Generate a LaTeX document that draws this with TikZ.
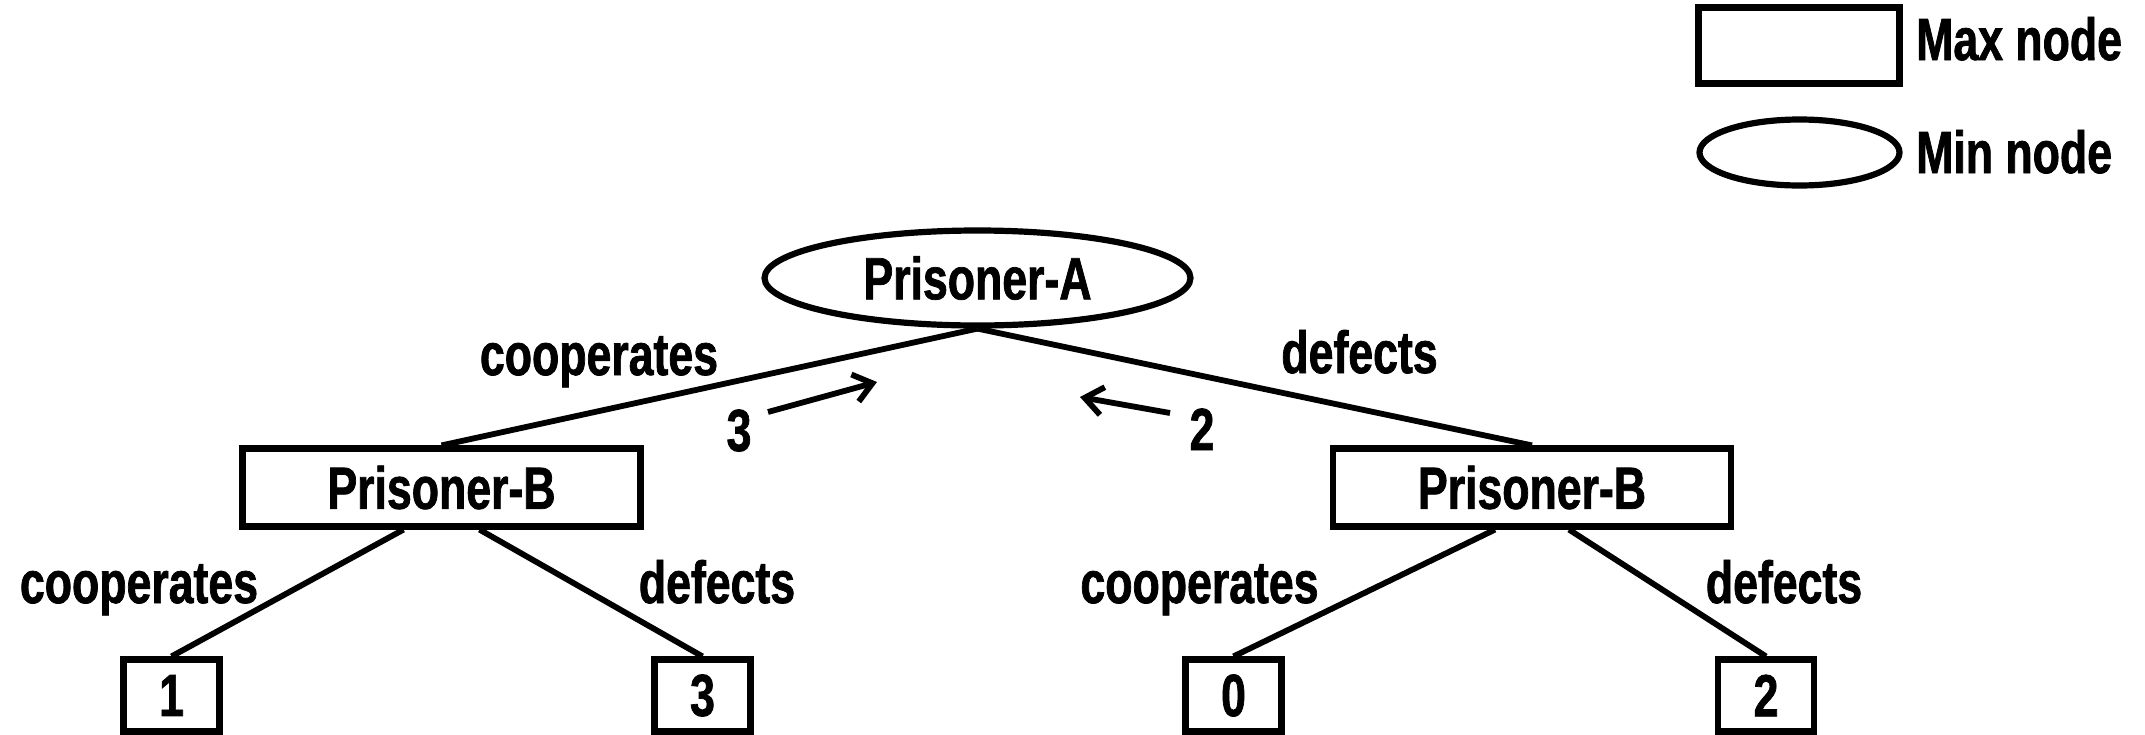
\documentclass[tikz,border=0pt]{standalone}
\usepackage{fontspec}
\setmainfont{Liberation Sans}[FakeStretch=0.75, BoldFeatures={FakeBold=1.2}]
\usetikzlibrary{shapes.geometric,arrows.meta}
\begin{document}
\begin{tikzpicture}[x=1pt,y=-1pt,
  every node/.style={font=\fontsize{59.5pt}{66pt}\selectfont\bfseries, inner sep=0pt},
  edge/.style={line width=5.8pt},
  maxbox/.style={draw, rectangle, line width=6.2pt},
  minoval/.style={draw, ellipse, line width=6.2pt},
  lbl/.style={anchor=base},
  backup/.style={line width=5.8pt, -{Straight Barb[length=18pt,width=28pt]}}]
\useasboundingbox (0,0) rectangle (2145,734);
\clip (0,0) rectangle (2145,734);
\fill[white] (0,0) rectangle (2145,734);

% legend
\node[maxbox, minimum width=201pt, minimum height=76pt] (keymax) at (1799,45.5) {};
\node[anchor=base west] (keymaxt) at (1916,60) {Max node};
\node[minoval, minimum width=200pt, minimum height=66pt] (keymin) at (1799.5,152.5) {};
\node[anchor=base west] (keymint) at (1916,173) {Min node};

% game tree
\node[minoval, minimum width=426pt, minimum height=95pt] (pa) at (977.5,278) {Prisoner-A};
\node[maxbox, minimum width=398pt, minimum height=78pt] (pb1) at (441.5,487.5) {Prisoner-B};
\node[maxbox, minimum width=398pt, minimum height=78pt] (pb2) at (1532,487.5) {Prisoner-B};

\node[maxbox, minimum width=96pt, minimum height=72pt] (l1) at (171.5,695.5) {1};
\node[maxbox, minimum width=96pt, minimum height=72pt] (l2) at (702.5,695.5) {3};
\node[maxbox, minimum width=96pt, minimum height=72pt] (l3) at (1233.5,695.5) {0};
\node[maxbox, minimum width=96pt, minimum height=72pt] (l4) at (1766,695.5) {2};

\draw[edge] (pa.south) -- (pb1.north);
\draw[edge] (pa.south) -- (pb2.north);
\draw[edge] ([xshift=-38pt]pb1.south) -- (l1.north);
\draw[edge] ([xshift=38pt]pb1.south) -- (l2.north);
\draw[edge] ([xshift=-37pt]pb2.south) -- (l3.north);
\draw[edge] ([xshift=37pt]pb2.south) -- (l4.north);

% move labels
\node[lbl] (ca) at (599,375) {cooperates};
\node[lbl] (da) at (1359.5,373) {defects};
\node[lbl] (cb1) at (139,603) {cooperates};
\node[lbl] (db1) at (717,603) {defects};
\node[lbl] (cb2) at (1199.5,603) {cooperates};
\node[lbl] (db2) at (1784,603) {defects};

% backed-up values
\node[lbl] (v3) at (739,451) {3};
\node[lbl] (v2) at (1202,450) {2};
\coordinate (a3s) at (768,412);
\coordinate (a3e) at (877,382);
\coordinate (a2s) at (1170,413);
\coordinate (a2e) at (1080,397);
\draw[backup] (a3s) -- (a3e);
\draw[backup] (a2s) -- (a2e);
\end{tikzpicture}
\end{document}
